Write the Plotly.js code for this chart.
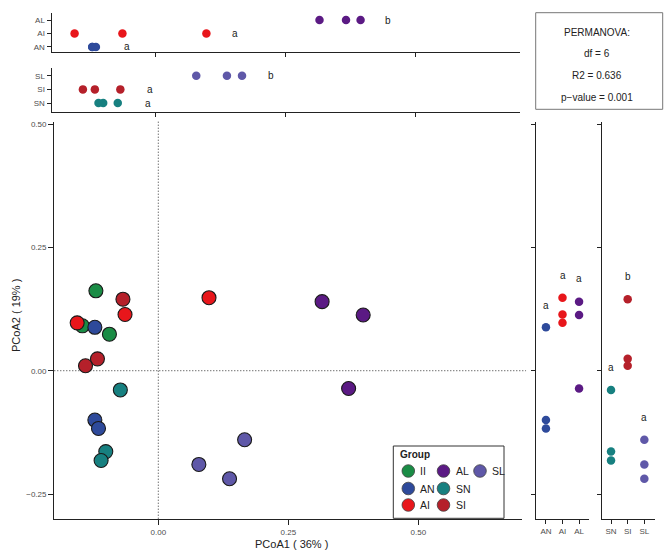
<!DOCTYPE html>
<html>
<head>
<meta charset="utf-8">
<script src="https://cdn.plot.ly/plotly-3.0.1.min.js"></script>
<style>html,body{margin:0;padding:0;background:#fff;}#chart{width:669px;height:554px;}</style>
</head>
<body>
<div id="chart"></div>
<script>
// ---- Data ----
const groups = ['II', 'AN', 'AI', 'AL', 'SN', 'SI', 'SL'];
const colors = ['#1a8c45', '#2e4a9b', '#e8161b', '#5b1a84', '#178080', '#b5202a', '#5f58a8'];
const pcoa1 = {
  II: [-0.120, -0.146, -0.094],
  AN: [-0.122, -0.122, -0.115],
  AI: [-0.156, -0.064, 0.0975],
  AL: [0.315, 0.394, 0.366],
  SN: [-0.073, -0.101, -0.110],
  SI: [-0.068, -0.117, -0.140],
  SL: [0.078, 0.137, 0.166]
};
const pcoa2 = {
  II: [0.162, 0.091, 0.074],
  AN: [0.088, -0.100, -0.117],
  AI: [0.097, 0.114, 0.148],
  AL: [0.140, 0.113, -0.036],
  SN: [-0.039, -0.164, -0.182],
  SI: [0.145, 0.024, 0.010],
  SL: [-0.190, -0.219, -0.140]
};
const panelA = ['AN', 'AI', 'AL'];
const panelS = ['SN', 'SI', 'SL'];
// significance letters: PCoA1 side panels (x position, group)
const lettersTopA = ['a', 'a', 'b'];
const lettersTopAx = [-0.056, 0.153, 0.446];
const lettersTopS = ['a', 'a', 'b'];
const lettersTopSx = [-0.015, -0.011, 0.222];
// PCoA2 side panels (y position)
const lettersRightA = ['a', 'a', 'a'];
const lettersRightAy = [0.133, 0.194, 0.186];
const lettersRightS = ['a', 'b', 'a'];
const lettersRightSy = [0.007, 0.191, -0.094];
const statsLines = ['PERMANOVA:', 'df = 6', 'R2 = 0.636', 'p\u2212value = 0.001'];
const xTitle = 'PCoA1 ( 36% )';
const yTitle = 'PCoA2 ( 19% )';

// ---- Geometry helpers ----
const W = 669, H = 554;
const px = v => v / W;
const py = v => 1 - v / H;
const colorOf = g => colors[groups.indexOf(g)];
const FONT = 'Liberation Sans, Arial, sans-serif';
const tickFont = {family: FONT, size: 8, color: '#4d4d4d'};

const traces = [];
// main scatter
groups.forEach((g, i) => {
  traces.push({
    type: 'scatter', mode: 'markers', x: pcoa1[g], y: pcoa2[g], name: g,
    xaxis: 'x', yaxis: 'y', showlegend: false, hoverinfo: 'skip',
    marker: {size: 14, color: colors[i], line: {color: '#1a1a1a', width: 1.1}}
  });
});
// top panels (PCoA1 by group)
panelA.forEach(g => traces.push({
  type: 'scatter', mode: 'markers', x: pcoa1[g], y: pcoa1[g].map(() => g),
  xaxis: 'x2', yaxis: 'y2', showlegend: false, hoverinfo: 'skip',
  marker: {size: 8.5, color: colorOf(g)}
}));
panelS.forEach(g => traces.push({
  type: 'scatter', mode: 'markers', x: pcoa1[g], y: pcoa1[g].map(() => g),
  xaxis: 'x3', yaxis: 'y3', showlegend: false, hoverinfo: 'skip',
  marker: {size: 8.5, color: colorOf(g)}
}));
// right panels (PCoA2 by group)
panelA.forEach(g => traces.push({
  type: 'scatter', mode: 'markers', x: pcoa2[g].map(() => g), y: pcoa2[g],
  xaxis: 'x4', yaxis: 'y4', showlegend: false, hoverinfo: 'skip',
  marker: {size: 8.5, color: colorOf(g)}
}));
panelS.forEach(g => traces.push({
  type: 'scatter', mode: 'markers', x: pcoa2[g].map(() => g), y: pcoa2[g],
  xaxis: 'x5', yaxis: 'y5', showlegend: false, hoverinfo: 'skip',
  marker: {size: 8.5, color: colorOf(g)}
}));

const axLine = {showline: true, linecolor: '#222', linewidth: 1.2, ticks: 'outside', ticklen: 4, tickcolor: '#222', tickwidth: 1, showgrid: false, zeroline: false, tickfont: tickFont, fixedrange: true};
const yMainRange = [-0.3, 0.505];
const yMainDomain = [py(518.7), py(121.6)];
const xMainRange = [-0.2, 0.70];

const layout = {
  width: W, height: H,
  margin: {l: 0, r: 0, t: 0, b: 0},
  paper_bgcolor: '#fff', plot_bgcolor: 'rgba(0,0,0,0)',
  showlegend: false,
  font: {family: FONT, color: '#333'},
  xaxis: Object.assign({}, axLine, {range: xMainRange, domain: [px(54.3), px(522.3)], anchor: 'y', tickvals: [0, 0.25, 0.5], tickformat: '.2f', ticklen: 5}),
  yaxis: Object.assign({}, axLine, {range: yMainRange, domain: yMainDomain, anchor: 'x', tickvals: [-0.25, 0, 0.25, 0.5], tickformat: '.2f', ticklen: 5}),
  xaxis2: Object.assign({}, axLine, {range: xMainRange, domain: [px(51.7), px(519.7)], anchor: 'y2', tickvals: [0, 0.25, 0.5], showticklabels: false}),
  yaxis2: Object.assign({}, axLine, {type: 'category', categoryarray: panelA, categoryorder: 'array', range: [-0.35, 2.5], domain: [py(51.7), py(13.3)], anchor: 'x2'}),
  xaxis3: Object.assign({}, axLine, {range: xMainRange, domain: [px(51.7), px(519.7)], anchor: 'y3', tickvals: [0, 0.25, 0.5], showticklabels: false}),
  yaxis3: Object.assign({}, axLine, {type: 'category', categoryarray: panelS, categoryorder: 'array', range: [-0.63, 2.54], domain: [py(111.7), py(68.3)], anchor: 'x3'}),
  xaxis4: Object.assign({}, axLine, {type: 'category', categoryarray: panelA, categoryorder: 'array', range: [-0.6, 2.6], domain: [px(536), px(589)], anchor: 'y4'}),
  yaxis4: Object.assign({}, axLine, {range: yMainRange, domain: yMainDomain, anchor: 'x4', tickvals: [-0.25, 0, 0.25, 0.5], showticklabels: false}),
  xaxis5: Object.assign({}, axLine, {type: 'category', categoryarray: panelS, categoryorder: 'array', range: [-0.56, 2.64], domain: [px(601.7), px(655)], anchor: 'y5'}),
  yaxis5: Object.assign({}, axLine, {range: yMainRange, domain: yMainDomain, anchor: 'x5', tickvals: [-0.25, 0, 0.25, 0.5], showticklabels: false}),
  shapes: [],
  annotations: []
};

// dotted zero lines
layout.shapes.push({type: 'line', xref: 'x', yref: 'y domain', x0: 0, x1: 0, y0: 0, y1: 1, line: {color: '#333', width: 1, dash: '1px,2px'}, layer: 'below'});
layout.shapes.push({type: 'line', xref: 'x domain', yref: 'y', x0: 0, x1: 1.008, y0: 0, y1: 0, line: {color: '#333', width: 1, dash: '1px,2px'}, layer: 'below'});

// PERMANOVA box
layout.shapes.push({type: 'rect', xref: 'paper', yref: 'paper', x0: px(535.7), x1: px(662.7), y0: py(109.3), y1: py(12.7), line: {color: '#777', width: 1}, fillcolor: 'rgba(0,0,0,0)'});
const statsY = [32.3, 53, 75.5, 97.5];
statsLines.forEach((t, i) => layout.annotations.push({
  xref: 'paper', yref: 'paper', x: px(597), y: py(statsY[i]), text: t, showarrow: false,
  xanchor: 'center', yanchor: 'middle', font: {family: FONT, size: 10, color: '#222'}
}));

// Legend box
layout.shapes.push({type: 'rect', xref: 'paper', yref: 'paper', x0: px(393.3), x1: px(504), y0: py(518.3), y1: py(446), line: {color: '#333', width: 1}, fillcolor: '#fff'});
layout.annotations.push({xref: 'paper', yref: 'paper', x: px(397.5), y: py(454.5), text: '<b>Group</b>', showarrow: false, xanchor: 'left', yanchor: 'middle', font: {family: FONT, size: 10, color: '#222'}});
const legCols = [408.3, 443.5, 480];
const legRows = [471, 488.5, 505];
groups.forEach((g, i) => {
  const c = Math.floor(i / 3), r = i % 3;
  const cx = px(legCols[c]), cy = py(legRows[r]);
  layout.shapes.push({type: 'circle', xref: 'paper', yref: 'paper', xsizemode: 'pixel', ysizemode: 'pixel', xanchor: cx, yanchor: cy, x0: -6.3, x1: 6.3, y0: -6.3, y1: 6.3, fillcolor: colors[i], line: {color: '#444', width: 0.8}});
  layout.annotations.push({xref: 'paper', yref: 'paper', x: px(legCols[c] + 10), y: cy, text: g, showarrow: false, xanchor: 'left', yanchor: 'middle', font: {family: FONT, size: 10.5, color: '#222'}});
});

// significance letters
const letterFont = {family: FONT, size: 10, color: '#222'};
lettersTopA.forEach((t, i) => layout.annotations.push({xref: 'x2', yref: 'y2', x: lettersTopAx[i], y: panelA[i], text: t, showarrow: false, xanchor: 'center', yanchor: 'middle', font: letterFont}));
lettersTopS.forEach((t, i) => layout.annotations.push({xref: 'x3', yref: 'y3', x: lettersTopSx[i], y: panelS[i], text: t, showarrow: false, xanchor: 'center', yanchor: 'middle', font: letterFont}));
lettersRightA.forEach((t, i) => layout.annotations.push({xref: 'x4', yref: 'y4', x: panelA[i], y: lettersRightAy[i], text: t, showarrow: false, xanchor: 'center', yanchor: 'middle', font: letterFont}));
lettersRightS.forEach((t, i) => layout.annotations.push({xref: 'x5', yref: 'y5', x: panelS[i], y: lettersRightSy[i], text: t, showarrow: false, xanchor: 'center', yanchor: 'middle', font: letterFont}));

// axis titles
layout.annotations.push({xref: 'paper', yref: 'paper', x: px(291), y: py(544), text: xTitle, showarrow: false, xanchor: 'center', yanchor: 'middle', font: {family: FONT, size: 11, color: '#222'}});
layout.annotations.push({xref: 'paper', yref: 'paper', x: px(16), y: py(316), text: yTitle, showarrow: false, textangle: -90, xanchor: 'center', yanchor: 'middle', font: {family: FONT, size: 11, color: '#222'}});

Plotly.newPlot('chart', traces, layout, {staticPlot: true, displayModeBar: false});
</script>
</body>
</html>
